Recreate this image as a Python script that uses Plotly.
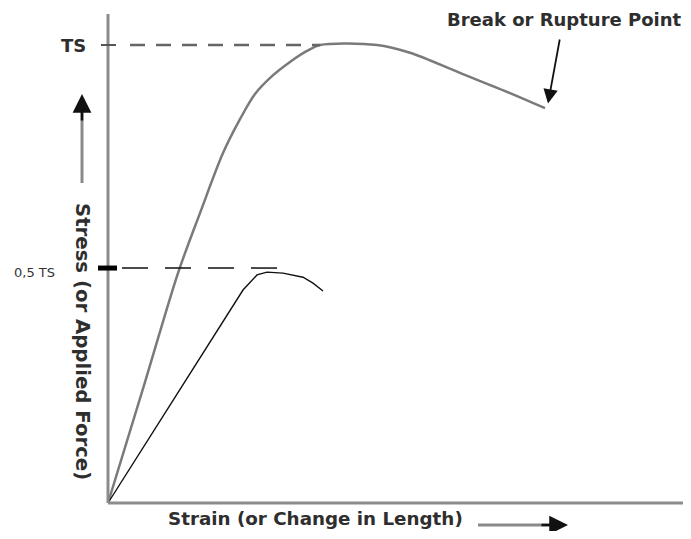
import plotly.graph_objects as go

# ---- data (stress relative to TS, strain in arbitrary units) ----
main_strain = [0.0, 0.37, 0.70, 0.92, 1.15, 1.32, 1.47, 1.64, 1.82, 1.99, 2.12, 2.69, 3.02, 3.52, 4.02, 4.37]
main_stress = [0.0, 0.264, 0.502, 0.633, 0.764, 0.838, 0.893, 0.932, 0.963, 0.987, 1.0, 1.0, 0.983, 0.939, 0.895, 0.862]
second_strain = [0.0, 1.35, 1.49, 1.59, 1.75, 1.95, 2.05, 2.15]
second_stress = [0.0, 0.465, 0.498, 0.504, 0.502, 0.493, 0.480, 0.463]
tick_values = [0.513, 1.0]
tick_labels = ["0,5 TS", "TS"]
x_title = "Strain (or Change in Length)"
y_title = "Stress (or Applied Force)"
break_label = "Break or Rupture Point"

# ---- layout geometry (reference pixels -> data units) ----
W, H = 691, 539            # reference canvas
PAGE = 8                   # default page margin of the html body
OX, OY = 108, 503          # origin pixel
SX, SY = 100.0, 458.0      # pixels per data unit


def X(px):
    return (px - OX) / SX


def Y(py):
    return (OY - py) / SY


BOLD = "DejaVu Sans"
TXT = "#2e2e2e"

fig = go.Figure()

# main (gray) curve
fig.add_trace(go.Scatter(x=main_strain, y=main_stress, mode="lines",
                         line=dict(color="#7a7a7a", width=2.5, shape="spline", smoothing=0.9),
                         hoverinfo="skip", showlegend=False))
# second (black) curve
fig.add_trace(go.Scatter(x=second_strain, y=second_stress, mode="lines",
                         line=dict(color="#111111", width=1.4),
                         hoverinfo="skip", showlegend=False))

ts_val, half_val = tick_values[1], tick_values[0]
ts_reach = main_strain[main_stress.index(max(main_stress))]

# dashed reference lines
fig.add_trace(go.Scatter(x=[X(130), ts_reach], y=[ts_val, ts_val], mode="lines",
                         line=dict(color="#666666", width=2.5, dash="15px,11px"),
                         hoverinfo="skip", showlegend=False))
fig.add_trace(go.Scatter(x=[X(122), X(293)], y=[half_val, half_val], mode="lines",
                         line=dict(color="#111111", width=1.5, dash="26px,17px"),
                         hoverinfo="skip", showlegend=False))

shapes = [
    # axes
    dict(type="line", x0=0, y0=0, x1=X(W), y1=0, line=dict(color="#8c8c8c", width=3)),
    dict(type="line", x0=0, y0=0, x1=0, y1=Y(14), line=dict(color="#8c8c8c", width=3)),
    # tick marks
    dict(type="line", x0=X(101), y0=ts_val, x1=X(116), y1=ts_val, line=dict(color="#555555", width=2)),
    dict(type="line", x0=X(98), y0=half_val, x1=X(117), y1=half_val, line=dict(color="#000000", width=5)),
    # arrow shafts
    dict(type="line", x0=X(478), y0=Y(525), x1=X(552), y1=Y(525), line=dict(color="#8a8a8a", width=3)),
    dict(type="line", x0=X(82), y0=Y(183), x1=X(82), y1=Y(110), line=dict(color="#8a8a8a", width=3)),
]

annotations = [
    dict(x=X(88), y=ts_val, text="<b>" + tick_labels[1] + "</b>", showarrow=False,
         xanchor="right", yanchor="middle", font=dict(family=BOLD, size=18, color=TXT)),
    dict(x=X(12), y=Y(272), text=tick_labels[0], showarrow=False,
         xanchor="left", yanchor="middle", font=dict(family="DejaVu Sans", size=13, color="#333333")),
    dict(x=X(445), y=Y(19), text="<b>" + break_label + "</b>", showarrow=False,
         xanchor="left", yanchor="middle", font=dict(family=BOLD, size=18, color=TXT)),
    dict(x=X(166), y=Y(518), text="<b>" + x_title + "</b>", showarrow=False,
         xanchor="left", yanchor="middle", font=dict(family=BOLD, size=18.3, color=TXT)),
    dict(x=X(83), y=Y(341), text="<b>" + y_title + "</b>", showarrow=False, textangle=90,
         xanchor="center", yanchor="middle", font=dict(family=BOLD, size=19.7, color=TXT)),
    # arrow to break point
    dict(x=main_strain[-1] + 0.03, y=main_stress[-1] + 0.01, ax=X(560), ay=Y(38),
         axref="x", ayref="y", xref="x", yref="y", text="", showarrow=True,
         arrowhead=2, arrowsize=1.6, arrowwidth=1.8, arrowcolor="#111111"),
    # x-direction arrow head
    dict(x=X(568), y=Y(525), ax=X(540), ay=Y(525), axref="x", ayref="y", xref="x", yref="y",
         text="", showarrow=True, arrowhead=2, arrowsize=1.5, arrowwidth=2.5, arrowcolor="#111111"),
    # y-direction arrow head
    dict(x=X(82), y=Y(94), ax=X(82), ay=Y(122), axref="x", ayref="y", xref="x", yref="y",
         text="", showarrow=True, arrowhead=2, arrowsize=1.5, arrowwidth=2.5, arrowcolor="#111111"),
]

# the figure sits inside the page margin, so it covers reference pixels PAGE..W-PAGE / PAGE..H-PAGE
fig.update_layout(
    width=W - 2 * PAGE, height=H - 2 * PAGE,
    margin=dict(l=0, r=0, t=0, b=0),
    paper_bgcolor="white", plot_bgcolor="white",
    xaxis=dict(range=[X(PAGE), X(W - PAGE)], visible=False, fixedrange=True),
    yaxis=dict(range=[Y(H - PAGE), Y(PAGE)], visible=False, fixedrange=True),
    shapes=shapes, annotations=annotations,
    showlegend=False,
)

fig.write_html("out.html")
